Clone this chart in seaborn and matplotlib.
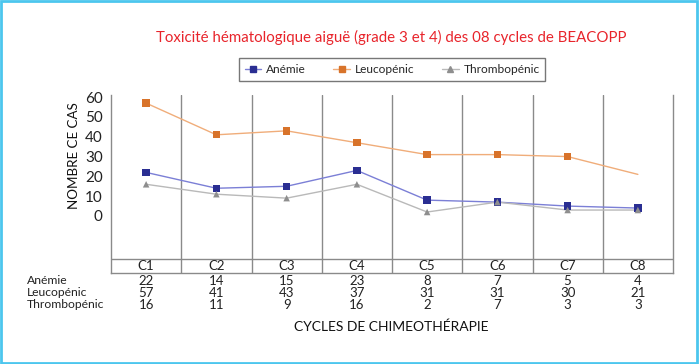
import matplotlib
matplotlib.use("Agg")
import matplotlib.pyplot as plt
import matplotlib.transforms as mtransforms
from matplotlib.lines import Line2D
from matplotlib.patches import Rectangle
import seaborn as sns
import pandas as pd

cycles = ["C1", "C2", "C3", "C4", "C5", "C6", "C7", "C8"]
anemie = [22, 14, 15, 23, 8, 7, 5, 4]
leucopenic = [57, 41, 43, 37, 31, 31, 30, 21]
thrombopenic = [16, 11, 9, 16, 2, 7, 3, 3]
series_names = ["Anémie", "Leucopénic", "Thrombopénic"]
yticks = [0, 10, 20, 30, 40, 50, 60]

sns.set_theme(style="white")
plt.rcParams["font.family"] = ["Lato", "DejaVu Sans"]

line_cols = {"Anémie": "#7b7fd6", "Leucopénic": "#f0ad7a", "Thrombopénic": "#b9b9b9"}
mark_cols = {"Anémie": "#2a2e92", "Leucopénic": "#d8732a", "Thrombopénic": "#8e8e8e"}
markers = {"Anémie": "s", "Leucopénic": "s", "Thrombopénic": "^"}

rows = []
for name, vals in zip(series_names, [anemie, leucopenic, thrombopenic]):
    for i, (c, v) in enumerate(zip(cycles, vals)):
        rows.append({"serie": name, "x": i, "cycle": c, "val": v})
df = pd.DataFrame(rows)

fig = plt.figure(figsize=(7.0, 3.64), dpi=100)
ax = fig.add_axes([111 / 700, 1 - 273 / 364, 562 / 700, 178 / 364])

sns.lineplot(data=df, x="x", y="val", hue="serie", palette=line_cols,
             linewidth=1.0, legend=False, ax=ax, zorder=3)
# markers (last Leucopénic point shown without marker in reference)
mdf = df[~((df["serie"] == "Leucopénic") & (df["cycle"] == "C8"))]
for name in series_names:
    sub = mdf[mdf["serie"] == name]
    sns.scatterplot(data=sub, x="x", y="val", color=mark_cols[name],
                    marker=markers[name], s=28 if markers[name] == "s" else 22,
                    edgecolor="none", legend=False, ax=ax, zorder=4)

ax.set_xlim(-0.5, len(cycles) - 0.5)
ax.set_ylim(-28.8, 61.1)
ax.set_yticks(yticks)
ax.set_yticklabels([str(t) for t in yticks], fontsize=11, color="#222222")
ax.tick_params(axis="y", length=0, pad=6)
ax.set_xticks([])
ax.set_xlabel("")
ax.set_ylabel("NOMBRE CE CAS", fontsize=9.6, color="#111111")
ax.yaxis.set_label_coords(-0.056, 0.657)
ax.spines["top"].set_visible(False)
for s in ["left", "right", "bottom"]:
    ax.spines[s].set_color("#8a8a8a")
    ax.spines[s].set_linewidth(1.0)

# vertical separators
for i in range(len(cycles) - 1):
    ax.axvline(i + 0.5, color="#8a8a8a", lw=1.0, zorder=1)
# C-row line
ax.axhline(-21.7, color="#8a8a8a", lw=1.0, zorder=1)
for i, c in enumerate(cycles):
    ax.text(i, -25.3, c, ha="center", va="center", fontsize=9.5, color="#222222")

# data table
trans = mtransforms.blended_transform_factory(ax.transData, fig.transFigure)
row_y = [1 - 281 / 364, 1 - 293 / 364, 1 - 305 / 364]
for name, vals, yy in zip(series_names, [anemie, leucopenic, thrombopenic], row_y):
    fig.text(27 / 700, yy, name, ha="left", va="center", fontsize=8.7, color="#222222")
    for i, v in enumerate(vals):
        ax.text(i, yy, str(v), transform=trans, ha="center", va="center",
                fontsize=9.5, color="#222222", clip_on=False)

fig.text(391 / 700, 1 - 327 / 364, "CYCLES DE CHIMEOTHÉRAPIE", ha="center",
         va="center", fontsize=10, color="#111111")

fig.text(391 / 700, 1 - 37 / 364,
         "Toxicité hématologique aiguë (grade 3 et 4) des 08 cycles de BEACOPP",
         ha="center", va="center", fontsize=10.8, color="#e8242b")

handles = [Line2D([0], [0], color=line_cols[n], lw=1.0, marker=markers[n],
                  markerfacecolor=mark_cols[n], markeredgecolor=mark_cols[n],
                  markersize=4) for n in series_names]
leg = fig.legend(handles, series_names, loc="center", ncol=3,
                 bbox_to_anchor=(392 / 700, 1 - 69.5 / 364), frameon=True,
                 fontsize=8.6, handlelength=1.4, columnspacing=2.3,
                 handletextpad=0.4, borderpad=0.5, borderaxespad=0.0,
                 fancybox=False)
leg.get_frame().set_edgecolor("#555555")
leg.get_frame().set_linewidth(1.0)

fig.patches.append(Rectangle((0.002, 0.003), 0.994, 0.994, transform=fig.transFigure,
                             fill=False, edgecolor="#4cc6ee", linewidth=2.0))

fig.savefig("out.png", dpi=100)
